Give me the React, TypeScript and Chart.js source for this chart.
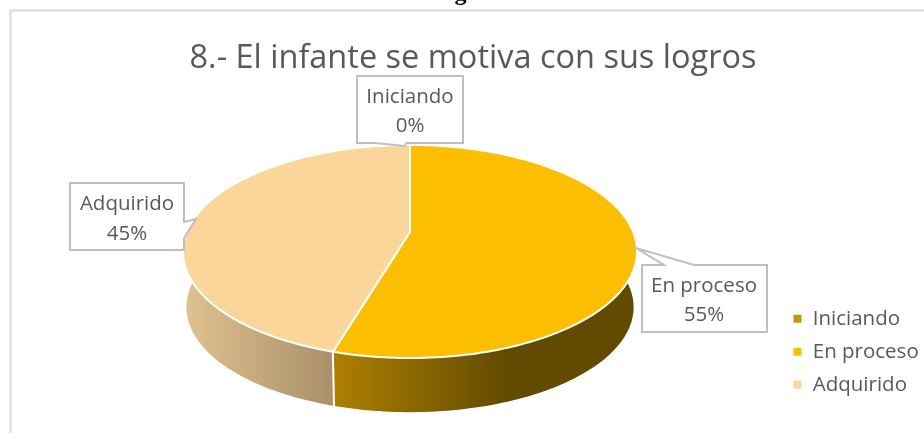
import React, { useEffect, useRef } from "react";
import { Chart, ArcElement, PieController, Title, Legend } from "chart.js";

const categories = ["Iniciando", "En proceso", "Adquirido"];
const percentages = [0, 54.6, 45.4];
const sliceColors = ["#C89600", "#FBBE00", "#FBD69B"];
const chartTitle = "8.- El infante se motiva con sus logros";
const captionAbove = "Gráfico N° 8: El infante se motiva con sus logros.";

const FONT = '"Open Sans"';
const TEXT = "#595959";

// View of the tilted disc, as multiples of the library's pie radius
const TILT = 0.183;
const WIDE = 1.478;
const TALL = 0.682;
const WALL_DROP = 56;
const WALL_SHRINK = 0.985;

// Shading of the side wall, by slice
const wallShades = [
  { from: 0, to: 1, start: "#C89600", end: "#C89600" },
  { from: 335, to: 505, start: "#AD7F00", end: "#624B00" },
  { from: 185, to: 335, start: "#E0C18F", end: "#A98E69" },
];

// Callout boxes: box edges, pointer polygon, text centre
const callouts = [
  { box: [357, 76, 463, 143], edge: "bottom", ptr: [[375, 143], [405, 146], [406, 143]], cx: 410, y: 97 },
  { box: [642, 265, 767, 332], edge: "top", ptr: [[664, 265], [636, 248], [694, 265]], cx: 704, y: 286 },
  { box: [70, 183, 184, 250], edge: "right", ptr: [[184, 222], [196, 219], [184, 238]], cx: 127, y: 204.5 },
];

function rim(el: any, angle: number, wall: boolean) {
  const { x, y, outerRadius: r } = el.getProps(["x", "y", "outerRadius"], true);
  const s = wall ? WALL_SHRINK : 1;
  const X = Math.cos(angle);
  const Y = Math.sin(angle);
  const w = 1 - TILT * Y;
  return {
    x: x + (WIDE * r * s * X) / w,
    y: y + (wall ? WALL_DROP : 0) + (TALL * r * s * Y) / w,
  };
}

const STEPS = 160;

class TiltedArc extends ArcElement {
  static id = "tiltedArc";
  draw(ctx: CanvasRenderingContext2D) {
    const { startAngle, endAngle, x, y } = (this as any).getProps(["startAngle", "endAngle", "x", "y"], true);
    if (endAngle - startAngle <= 0) return;
    const o = (this as any).options;
    ctx.save();
    ctx.beginPath();
    ctx.moveTo(x, y);
    for (let i = 0; i <= STEPS; i++) {
      const p = rim(this, startAngle + ((endAngle - startAngle) * i) / STEPS, false);
      ctx.lineTo(p.x, p.y);
    }
    ctx.closePath();
    ctx.fillStyle = o.backgroundColor;
    ctx.fill();
    ctx.strokeStyle = o.borderColor;
    ctx.lineWidth = o.borderWidth;
    ctx.lineJoin = "round";
    ctx.stroke();
    ctx.restore();
  }
}

class TiltedPie extends PieController {
  static id = "tiltedPie";
  static defaults = { dataElementType: "tiltedArc" };
}

const scenePlugin = {
  id: "scene",
  afterLayout(chart: any) {
    const a = chart.chartArea;
    a.left = 258;
    a.right = 562;
    a.width = 304;
    a.top = 80;
    a.bottom = 384;
    a.height = 304;
    chart.titleBlock.left = 0;
    chart.titleBlock.right = 946;
    const lw = chart.legend.width;
    chart.legend.left = 780;
    chart.legend.right = 780 + lw;
    const lh = chart.legend.height;
    chart.legend.top = 296;
    chart.legend.bottom = 296 + lh;
  },
  beforeDraw(chart: any) {
    const ctx = chart.ctx as CanvasRenderingContext2D;
    ctx.save();
    ctx.fillStyle = "#ffffff";
    ctx.fillRect(0, 0, chart.width, chart.height);
    ctx.fillStyle = "#000000";
    ctx.font = 'bold 24px "Liberation Serif"';
    ctx.textAlign = "right";
    ctx.textBaseline = "alphabetic";
    ctx.fillText(captionAbove, 504, 0);
    ctx.strokeStyle = "#D9D9D9";
    ctx.lineWidth = 2;
    ctx.beginPath();
    ctx.moveTo(10.5, 434);
    ctx.lineTo(10.5, 10.5);
    ctx.lineTo(925, 10.5);
    ctx.stroke();
    ctx.restore();
  },
  beforeDatasetsDraw(chart: any) {
    const ctx = chart.ctx as CanvasRenderingContext2D;
    const arcs = chart.getDatasetMeta(0).data;
    arcs.forEach((el: any, i: number) => {
      const { startAngle, endAngle } = el.getProps(["startAngle", "endAngle"], true);
      if (endAngle - startAngle <= 0) return;
      const shade = wallShades[i];
      const g = ctx.createLinearGradient(shade.from, 0, shade.to, 0);
      g.addColorStop(0, shade.start);
      g.addColorStop(1, shade.end);
      ctx.save();
      ctx.beginPath();
      for (let n = 0; n <= STEPS; n++) {
        const p = rim(el, startAngle + ((endAngle - startAngle) * n) / STEPS, false);
        n === 0 ? ctx.moveTo(p.x, p.y) : ctx.lineTo(p.x, p.y);
      }
      for (let n = STEPS; n >= 0; n--) {
        const p = rim(el, startAngle + ((endAngle - startAngle) * n) / STEPS, true);
        ctx.lineTo(p.x, p.y);
      }
      ctx.closePath();
      ctx.fillStyle = g;
      ctx.fill();
      ctx.restore();
    });
    // white seam where two walls meet at the front
    arcs.forEach((el: any) => {
      const { startAngle, endAngle } = el.getProps(["startAngle", "endAngle"], true);
      if (endAngle - startAngle <= 0) return;
      const sin = Math.sin(startAngle);
      if (sin <= 0) return;
      const a = rim(el, startAngle, false);
      const b = rim(el, startAngle, true);
      ctx.save();
      ctx.strokeStyle = "#ffffff";
      ctx.lineWidth = 2;
      ctx.beginPath();
      ctx.moveTo(a.x, a.y);
      ctx.lineTo(b.x, b.y);
      ctx.stroke();
      ctx.restore();
    });
  },
  afterDraw(chart: any) {
    const ctx = chart.ctx as CanvasRenderingContext2D;
    callouts.forEach((c, i) => {
      const [l, t, r, b] = c.box;
      const ptr = c.ptr;
      ctx.save();
      ctx.beginPath();
      ctx.moveTo(l, t);
      if (c.edge === "top") ptr.forEach((p) => ctx.lineTo(p[0], p[1]));
      ctx.lineTo(r, t);
      if (c.edge === "right") ptr.forEach((p) => ctx.lineTo(p[0], p[1]));
      ctx.lineTo(r, b);
      if (c.edge === "bottom") [...ptr].reverse().forEach((p) => ctx.lineTo(p[0], p[1]));
      ctx.lineTo(l, b);
      ctx.closePath();
      ctx.fillStyle = "#ffffff";
      ctx.fill();
      ctx.strokeStyle = "#BFBFBF";
      ctx.lineWidth = 2;
      ctx.stroke();
      ctx.fillStyle = TEXT;
      ctx.font = `20.5px ${FONT}`;
      ctx.textAlign = "center";
      ctx.textBaseline = "middle";
      ctx.fillText(categories[i], c.cx, c.y);
      ctx.fillText(`${Math.round(percentages[i])}%`, c.cx, c.y + 29.5);
      ctx.restore();
    });
  },
};

Chart.register(TiltedArc as any, TiltedPie as any, Title, Legend, scenePlugin as any);

export default function App() {
  const ref = useRef<HTMLCanvasElement>(null);
  useEffect(() => {
    const chart = new Chart(ref.current!, {
      type: "tiltedPie" as any,
      data: {
        labels: categories,
        datasets: [
          {
            data: percentages,
            backgroundColor: sliceColors,
            borderColor: "#ffffff",
            borderWidth: 2,
          },
        ],
      },
      options: {
        responsive: false,
        animation: false,
        rotation: 0,
        layout: { padding: 0 },
        plugins: {
          tooltip: { enabled: false },
          title: {
            display: true,
            text: chartTitle,
            color: TEXT,
            font: { family: FONT, size: 32.5, weight: "normal", lineHeight: 1.2 },
            padding: { top: 39, bottom: 1 },
          },
          legend: {
            display: true,
            position: "right",
            align: "start",
            labels: {
              color: TEXT,
              boxWidth: 10,
              boxHeight: 10,
              padding: 12.5,
              font: { family: FONT, size: 20.5 },
            },
          },
        },
      } as any,
    });
    return () => chart.destroy();
  }, []);
  return (
    <div style={{ position: "absolute", left: 0, top: 0, width: 924, height: 433, overflow: "hidden" }}>
      <canvas ref={ref} width={924} height={433} style={{ display: "block" }} />
    </div>
  );
}
